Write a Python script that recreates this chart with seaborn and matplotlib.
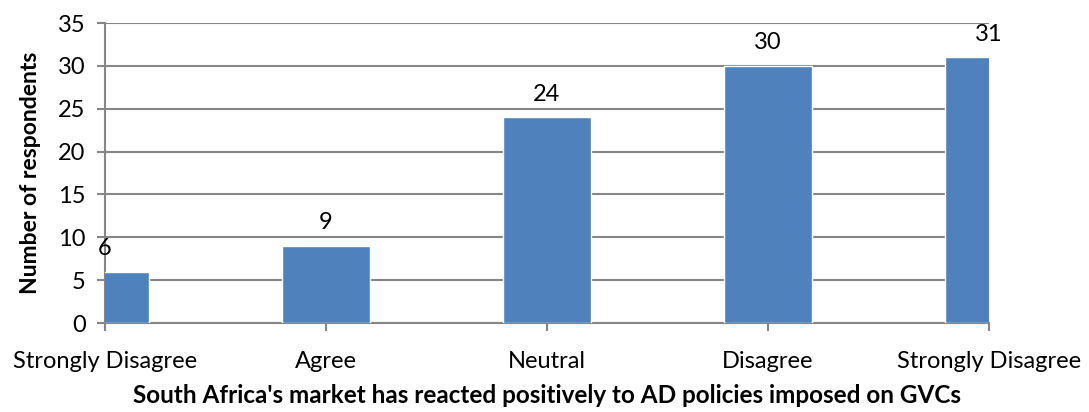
import matplotlib
matplotlib.use("Agg")
import matplotlib.pyplot as plt
import seaborn as sns
import pandas as pd

categories = ["Strongly Disagree", "Agree", "Neutral", "Disagree", "Strongly Disagree"]
positions = [0, 1, 2, 3, 4]
respondents = [6, 9, 24, 30, 31]

bar_color = "#4F81BD"
grid_color = "#868686"

sns.set_theme(style="white")
plt.rcParams["font.family"] = ["Lato", "DejaVu Sans"]

df = pd.DataFrame({"pos": positions, "count": respondents})

fig, ax = plt.subplots(figsize=(10.89, 4.12), dpi=100)
fig.subplots_adjust(left=0.0964, right=0.908, bottom=0.216, top=0.944)

sns.barplot(data=df, x="pos", y="count", order=positions, color=bar_color,
            width=0.4, saturation=1, ax=ax, zorder=3)

for c in ax.containers:
    ax.bar_label(c, padding=9, fontsize=17, color="black")

ax.set_xlim(0, 4)
ax.set_ylim(0, 35)
ax.set_yticks(range(0, 36, 5))
ax.set_xticks(positions)
ax.set_xticklabels(categories)

ax.yaxis.grid(True, color=grid_color, linewidth=1.5, zorder=0)
ax.set_axisbelow(True)
for s in ["top", "right"]:
    ax.spines[s].set_visible(False)
for s in ["left", "bottom"]:
    ax.spines[s].set_color(grid_color)
    ax.spines[s].set_linewidth(1.5)

ax.tick_params(axis="both", direction="out", length=6, width=1.5, color=grid_color,
               labelsize=17, labelcolor="black", bottom=True, left=True)
ax.tick_params(axis="x", pad=14)
ax.tick_params(axis="y", pad=8)

ax.set_ylabel("Number of respondents", fontsize=16.5, fontweight="bold",
              color="black", labelpad=12)
ax.set_xlabel("South Africa's market has reacted positively to AD policies imposed on GVCs",
              fontsize=17.5, fontweight="bold", color="black", labelpad=9)

plt.savefig("out.png", dpi=100)
